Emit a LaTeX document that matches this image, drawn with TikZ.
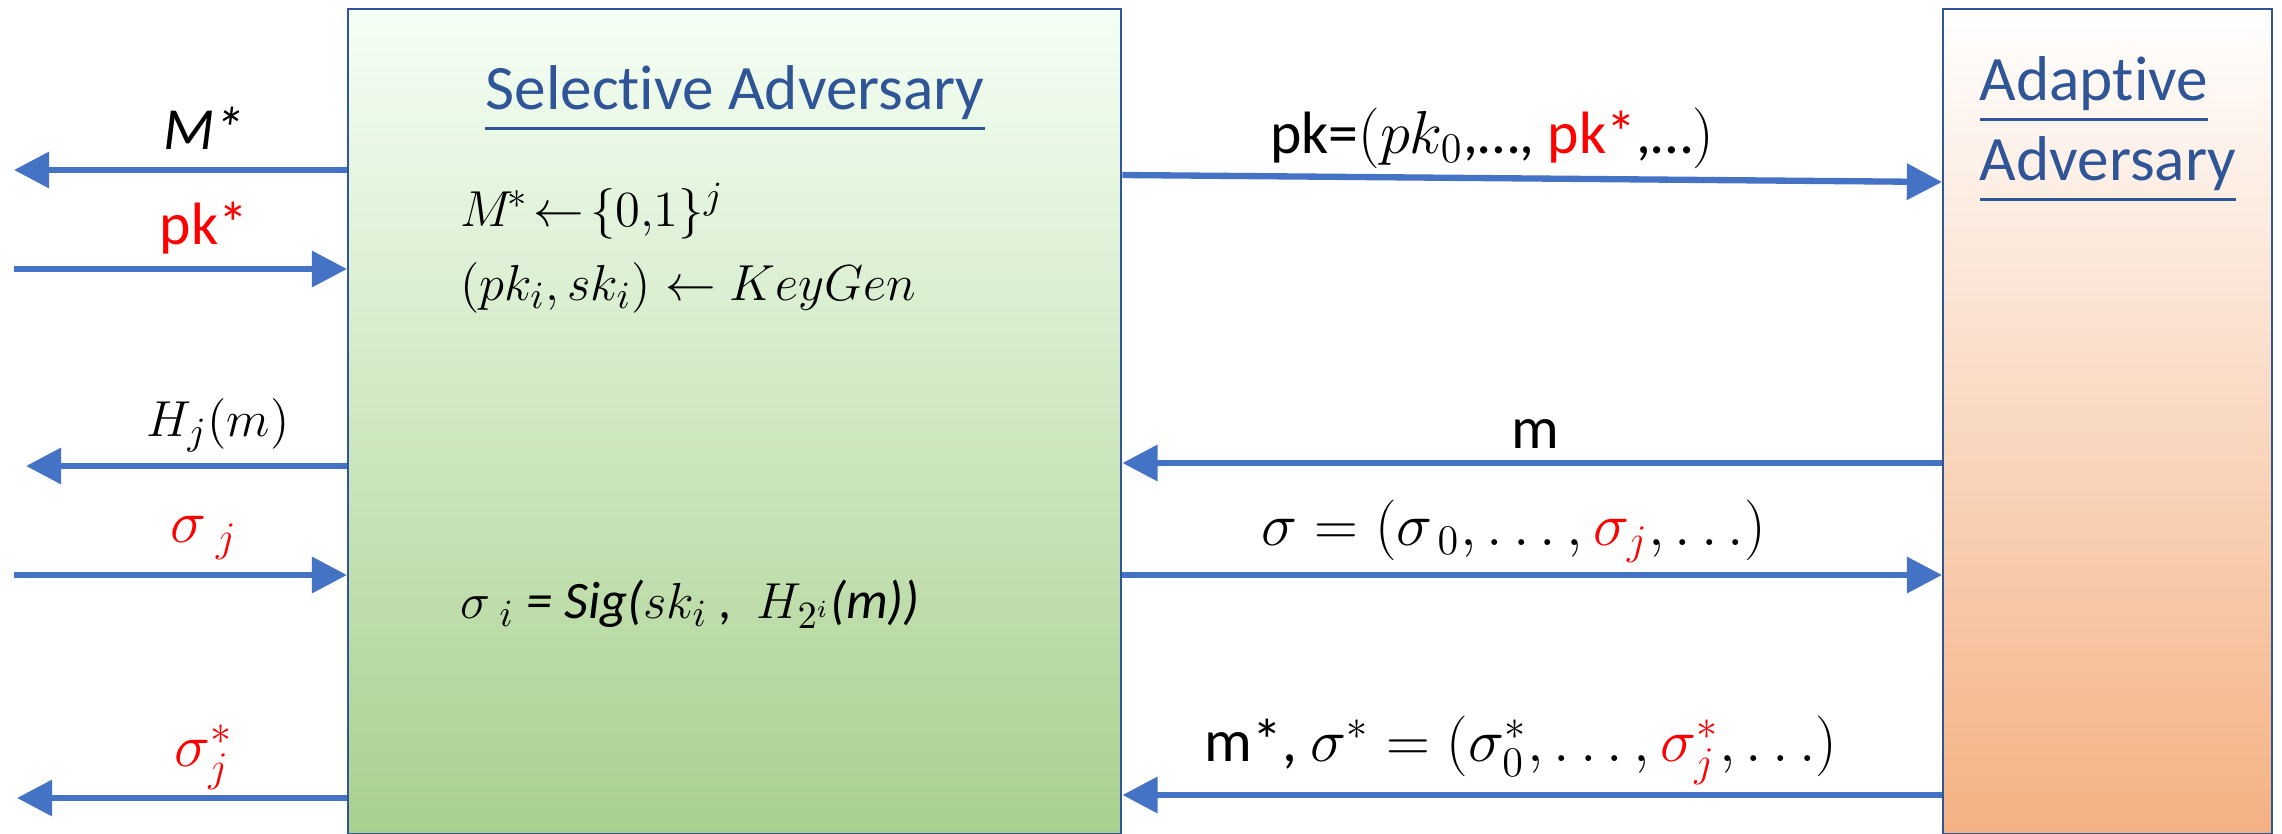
\documentclass[tikz,border=0pt]{standalone}
\usepackage{amsmath,amssymb}
\usepackage{fontspec}
\setmainfont{Carlito}[Ligatures=NoCommon]
\usepackage{tikz}
\usetikzlibrary{arrows.meta,positioning,calc}
\usepackage{xcolor}
\definecolor{msgblue}{RGB}{68,114,196}
\definecolor{boxblue}{RGB}{47,85,151}
\definecolor{selgreen}{RGB}{169,208,142}
\definecolor{adporange}{RGB}{244,177,131}

\begin{document}
\begin{tikzpicture}[
    msg/.style={line width=1.8pt,msgblue,-{Triangle[length=10pt,width=10pt]}},
    party/.style={draw=boxblue,line width=0.7pt,anchor=north west,inner sep=0pt},
    title/.style={boxblue,font=\fontsize{18}{22}\selectfont,align=left},
    lbl/.style={font=\fontsize{17}{20}\selectfont},
    rlbl/.style={font=\fontsize{17}{20}\selectfont},
    calc/.style={font=\fontsize{15}{18}\selectfont,anchor=west}
  ]
  \useasboundingbox (0,0) rectangle (22.82,8.33);
  % the two parties
  \node[party,minimum width=7.73cm,minimum height=8.25cm,top color=green!4!white,bottom color=selgreen] (sel) at (3.47,8.25) {};
  \node[party,minimum width=3.29cm,minimum height=8.25cm,top color=white,bottom color=adporange] (adp) at (19.42,8.25) {};
  \node[title] (selname) at (7.35,7.34) {\underline{Selective Adversary}};
  \node[title,anchor=west,inner sep=0pt] (adpname1) at (19.79,7.43) {\underline{Adaptive}};
  \node[title,anchor=west,inner sep=0pt] (adpname2) at (19.79,6.63) {\underline{Adversary}};
  % what the selective adversary computes
  \node[calc] (draw1) at (4.48,6.22) {$M^{\!*}\!\leftarrow\!\{0{,}1\}^{j}$};
  \node[calc] (draw2) at (4.48,5.45) {$(pk_i, sk_i) \leftarrow KeyGen$};
  \node[calc] (sign) at (4.48,2.29) {$\sigma_{\;i}$ \textit{= Sig(}$sk_i$\textit{ ,\ \ }$H_{2^i}$\textit{(m))}};
  % free ends on the left
  \coordinate (l1) at (0.14,6.63);
  \coordinate (l2) at (0.14,5.64);
  \coordinate (l3) at (0.26,3.67);
  \coordinate (l4) at (0.14,2.58);
  \coordinate (l5) at (0.17,0.35);
  % left side messages
  \draw[msg] (sel.west |- l1) -- (l1);
  \draw[msg] (l2) -- (sel.west |- l2);
  \draw[msg] (sel.west |- l3) -- (l3);
  \draw[msg] (l4) -- (sel.west |- l4);
  \draw[msg] (sel.west |- l5) -- (l5);
  \node[lbl] (mstar) at (2.04,7.05) {\textit{M*}};
  \node[lbl,red] (pkstar) at (2.04,6.05) {pk*};
  \node[lbl,font=\fontsize{15}{18}\selectfont] (hash) at (2.18,4.08) {$H_j(m)$};
  \node[lbl,red] (sigj) at (2.04,2.95) {$\sigma_{\;j}$};
  \node[lbl,red] (forge) at (2.04,0.76) {$\sigma_j^{*}$};
  % right side messages
  \draw[msg] (sel.east |- 0,6.58) -- (adp.west |- 0,6.51);
  \draw[msg] (adp.west |- 0,3.70) -- (sel.east |- 0,3.70);
  \draw[msg] (sel.east |- 0,2.58) -- (adp.west |- 0,2.58);
  \draw[msg] (adp.west |- 0,0.38) -- (sel.east |- 0,0.38);
  \node[rlbl] (pklist) at (14.92,6.95) {pk=$(pk_0$,…, \textcolor{red}{pk*},…$)$};
  \node[rlbl] (query) at (15.35,3.99) {m};
  \node[rlbl] (siglist) at (15.14,3.02) {$\sigma = (\sigma_{\,0}, \ldots, \textcolor{red}{\sigma_j}, \ldots)$};
  \node[rlbl] (answer) at (15.21,0.83) {m*, $\sigma^{*} = (\sigma_0^{*}, \ldots, \textcolor{red}{\sigma_j^{*}}, \ldots)$};
\end{tikzpicture}
\end{document}
